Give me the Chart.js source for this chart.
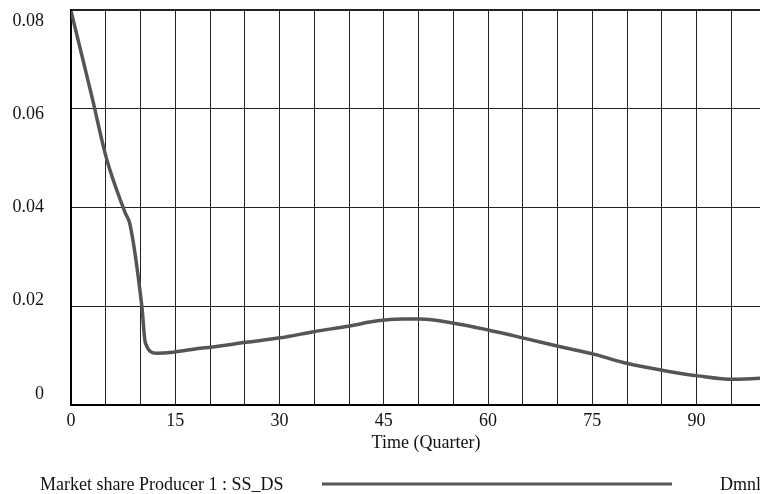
<!DOCTYPE html>
<html>
<head>
<meta charset="utf-8">
<script src="https://cdn.jsdelivr.net/npm/chart.js@4.4.1/dist/chart.umd.min.js"></script>
<style>
  html, body { margin: 0; padding: 0; background: #fff; overflow: hidden; width: 760px; height: 494px; }
  canvas { display: block; }
</style>
</head>
<body>
<canvas id="graphe" width="780" height="494"></canvas>
<script>
const temps = [0, 3, 4.9, 5.6, 7.8, 8.5, 10.2, 10.7, 12.3, 14.7, 18.6, 20.1, 25.2, 30.1, 35.1, 40.1, 43, 45.2, 47.8, 50.2, 55.3, 60, 65, 70.4, 75.2, 80.1, 85.2, 90.2, 95.3, 99.1, 100];
const partMarche = [0.0798, 0.0625, 0.0510, 0.0476, 0.0389, 0.0365, 0.0199, 0.0126, 0.0105, 0.0107, 0.0115, 0.0117, 0.0127, 0.0136, 0.0149, 0.0160, 0.0168, 0.0172, 0.0174, 0.0174, 0.0165, 0.0152, 0.0136, 0.0118, 0.0103, 0.0084, 0.0070, 0.0059, 0.0052, 0.0054, 0.0055];
const yTicks = [0, 0.02, 0.04, 0.06, 0.08];
const xLabels = [0, 15, 30, 45, 60, 75, 90];

const POLICE = '"Liberation Serif", "Times New Roman", serif';
const GRIS = '#555555';

// pas de marge auto autour des libellés, on cale tout à la main
function sansMarge(s) {
  s.paddingTop = 0; s.paddingBottom = 0;
  s.paddingLeft = 0; s.paddingRight = 0;
}

// titre d'axe + légende en bas, dessinés à la main comme dans Vensim
const basDePage = {
  id: 'basDePage',
  afterDraw(chart) {
    const c = chart.ctx;
    c.save();
    c.fillStyle = '#111';
    c.font = '18px ' + POLICE;
    c.textBaseline = 'alphabetic';
    c.textAlign = 'center';
    c.fillText('Time (Quarter)', 426, 448);
    c.textAlign = 'left';
    c.fillText('Market share Producer 1 : SS_DS', 40, 490);
    c.fillText('Dmnl', 720, 490);
    c.strokeStyle = GRIS;
    c.lineWidth = 3;
    c.beginPath();
    c.moveTo(322, 484);
    c.lineTo(672, 484);
    c.stroke();
    c.restore();
  }
};

new Chart(document.getElementById('graphe'), {
  type: 'line',
  data: {
    datasets: [{
      data: temps.map((t, i) => ({ x: t, y: partMarche[i] })),
      borderColor: GRIS,
      borderWidth: 3.5,
      pointRadius: 0,
      cubicInterpolationMode: 'monotone',
      fill: false,
    }],
  },
  options: {
    responsive: false,
    animation: false,
    layout: { padding: { top: 10, right: 14, left: 0, bottom: 0 } },
    plugins: { legend: { display: false }, tooltip: { enabled: false } },
    scales: {
      x: {
        type: 'linear',
        min: 0, max: 100,
        afterFit: s => { s.height = 89; sansMarge(s); },
        ticks: {
          stepSize: 5,
          autoSkip: false,
          maxRotation: 0,
          padding: 5,
          color: '#111',
          font: { family: POLICE, size: 18 },
          callback: v => xLabels.includes(v) ? String(v) : '',
        },
        grid: { color: '#222', lineWidth: 1, drawTicks: false },
        border: { color: '#000', width: 2 },
      },
      y: {
        min: 0, max: 0.08,
        weight: 0,
        afterBuildTicks: s => { s.ticks = yTicks.map(v => ({ value: v })); },
        afterFit: s => { s.width = 0; sansMarge(s); },
        ticks: { display: false },
        grid: {
          color: '#222',
          drawTicks: false,
          lineWidth: ctx => (ctx.tick && ctx.tick.value === 0.08 ? 2 : 1),
        },
        border: { color: '#000', width: 2 },
      },
      // axe fantôme juste pour placer les libellés comme Vensim (répartis, pas sur la grille)
      yLab: {
        position: 'left',
        weight: 1,
        min: -0.00236, max: 0.08236,
        afterBuildTicks: s => { s.ticks = yTicks.map(v => ({ value: v })); },
        afterFit: s => { s.width = 71; sansMarge(s); },
        ticks: {
          padding: 19,
          color: '#111',
          font: { family: POLICE, size: 18 },
          callback: v => (v === 0 ? '0' : v.toFixed(2)),
        },
        grid: { display: false },
        border: { display: false },
      },
    },
  },
  plugins: [basDePage],
});
</script>
</body>
</html>
